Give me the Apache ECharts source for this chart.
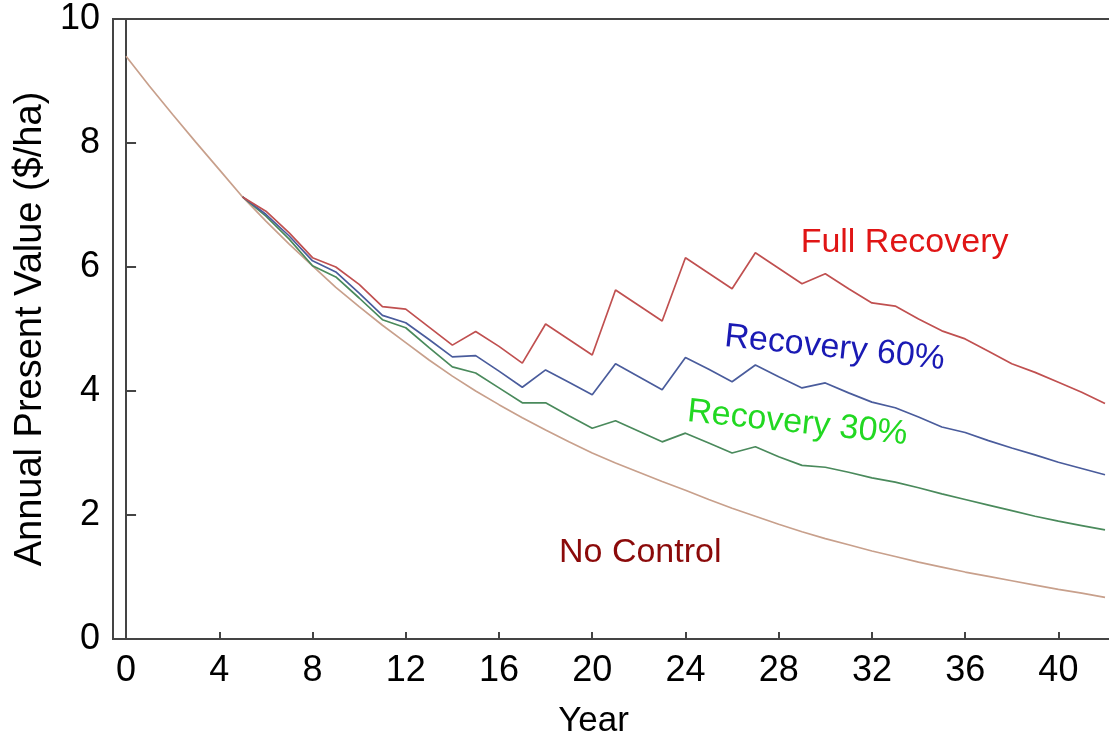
<!DOCTYPE html>
<html>
<head>
<meta charset="utf-8">
<script src="https://cdn.jsdelivr.net/npm/echarts@6/dist/echarts.min.js"></script>
<style>
  html, body { margin: 0; padding: 0; background: #fff; }
  #chart { width: 1109px; height: 745px; }
</style>
</head>
<body>
<div id="chart"></div>
<script>
const years = [0, 1, 2, 3, 4, 5, 6, 7, 8, 9, 10, 11, 12, 13, 14, 15, 16, 17, 18, 19, 20,
  21, 22, 23, 24, 25, 26, 27, 28, 29, 30, 31, 32, 33, 34, 35, 36, 37, 38, 39, 40, 41, 42];

const noControl = [9.40, 8.92, 8.46, 8.01, 7.57, 7.13, 6.74, 6.37, 6.02, 5.67, 5.36, 5.06,
  4.78, 4.50, 4.24, 4.00, 3.78, 3.57, 3.37, 3.18, 3.00, 2.84, 2.69, 2.54, 2.40, 2.25, 2.11,
  1.98, 1.85, 1.73, 1.62, 1.52, 1.42, 1.33, 1.24, 1.16, 1.08, 1.01, 0.94, 0.87, 0.80, 0.74, 0.67];

const recovery30 = [null, null, null, null, null, 7.13, 6.82, 6.45, 6.02, 5.84, 5.50, 5.15,
  5.02, 4.70, 4.39, 4.29, 4.05, 3.81, 3.81, 3.60, 3.40, 3.52, 3.35, 3.18, 3.32, 3.16, 3.00,
  3.10, 2.94, 2.80, 2.77, 2.69, 2.60, 2.53, 2.44, 2.34, 2.25, 2.16, 2.07, 1.98, 1.90, 1.83, 1.76];

const recovery60 = [null, null, null, null, null, 7.13, 6.85, 6.50, 6.10, 5.92, 5.58, 5.22,
  5.10, 4.83, 4.55, 4.57, 4.32, 4.06, 4.34, 4.14, 3.94, 4.44, 4.23, 4.02, 4.54, 4.35, 4.15,
  4.42, 4.23, 4.05, 4.13, 3.97, 3.82, 3.73, 3.58, 3.42, 3.33, 3.20, 3.08, 2.97, 2.85, 2.75, 2.65];

const fullRecovery = [null, null, null, null, null, 7.13, 6.90, 6.55, 6.15, 6.00, 5.72, 5.36,
  5.32, 5.03, 4.74, 4.96, 4.72, 4.45, 5.08, 4.83, 4.58, 5.63, 5.38, 5.13, 6.15, 5.90, 5.65,
  6.23, 5.98, 5.73, 5.89, 5.65, 5.42, 5.37, 5.16, 4.97, 4.84, 4.64, 4.44, 4.30, 4.14, 3.98, 3.80];

const xTicks = [0, 4, 8, 12, 16, 20, 24, 28, 32, 36, 40];

// curve labels, placed at data coordinates
const curveLabels = [
  { text: "Full Recovery", at: [33.4, 6.39], color: "#e01515", rot: 0 },
  { text: "Recovery 60%", at: [30.4, 4.69], color: "#1a1ab4", rot: -0.105 },
  { text: "Recovery 30%", at: [28.8, 3.48], color: "#22d822", rot: -0.105 },
  { text: "No Control", at: [22.06, 1.39], color: "#8b0a0a", rot: 0 }
];

const pairs = vals => years.map((y, i) => [y, vals[i]]);

const chart = echarts.init(document.getElementById("chart"));
const font = "'Liberation Sans', Arial, sans-serif";

const lineSeries = (name, vals, color) => ({
  name,
  type: "line",
  data: pairs(vals),
  showSymbol: false,
  connectNulls: false,
  lineStyle: { color, width: 1.7 },
  itemStyle: { color },
  animation: false
});

chart.setOption({
  backgroundColor: "#fff",
  animation: false,
  grid: {
    left: 113, top: 19, right: -3, bottom: 106,
    outerBoundsMode: "none",
    containLabel: false,
    show: true, borderColor: "#444", borderWidth: 2
  },
  xAxis: {
    type: "value",
    min: -0.56,
    max: 42.3,
    name: "Year",
    nameLocation: "middle",
    nameGap: 65,
    nameTextStyle: { fontSize: 35, color: "#000", fontFamily: font, padding: [0, 38, 0, 0] },
    axisLine: { show: true, onZero: false, lineStyle: { color: "#444", width: 2 } },
    axisTick: { show: true, inside: true, length: 7, customValues: xTicks, lineStyle: { color: "#444", width: 2 } },
    axisLabel: { customValues: xTicks, fontSize: 36, color: "#000", fontFamily: font, margin: 14 },
    splitLine: { show: false }
  },
  yAxis: {
    type: "value",
    min: 0,
    max: 10,
    interval: 2,
    name: "Annual Present Value ($/ha)",
    nameLocation: "middle",
    nameGap: 62,
    nameTextStyle: { fontSize: 38, color: "#000", fontFamily: font },
    axisLine: { show: true, lineStyle: { color: "#444", width: 2 } },
    axisTick: { show: true, inside: true, length: 10, lineStyle: { color: "#444", width: 2 } },
    axisLabel: { fontSize: 36, color: "#000", fontFamily: font, margin: 13 },
    splitLine: { show: false }
  },
  series: [
    lineSeries("No Control", noControl, "#c8a08c"),
    lineSeries("Recovery 30%", recovery30, "#4a8a5c"),
    lineSeries("Recovery 60%", recovery60, "#4a5c9c"),
    lineSeries("Full Recovery", fullRecovery, "#c05050")
  ]
});

chart.setOption({
  graphic: curveLabels.map(l => {
    const p = chart.convertToPixel({ gridIndex: 0 }, l.at);
    return {
      type: "text",
      x: p[0],
      y: p[1],
      rotation: l.rot,
      silent: true,
      style: {
        text: l.text,
        fill: l.color,
        font: "34px " + font,
        align: "center",
        verticalAlign: "middle"
      }
    };
  })
});
</script>
</body>
</html>
